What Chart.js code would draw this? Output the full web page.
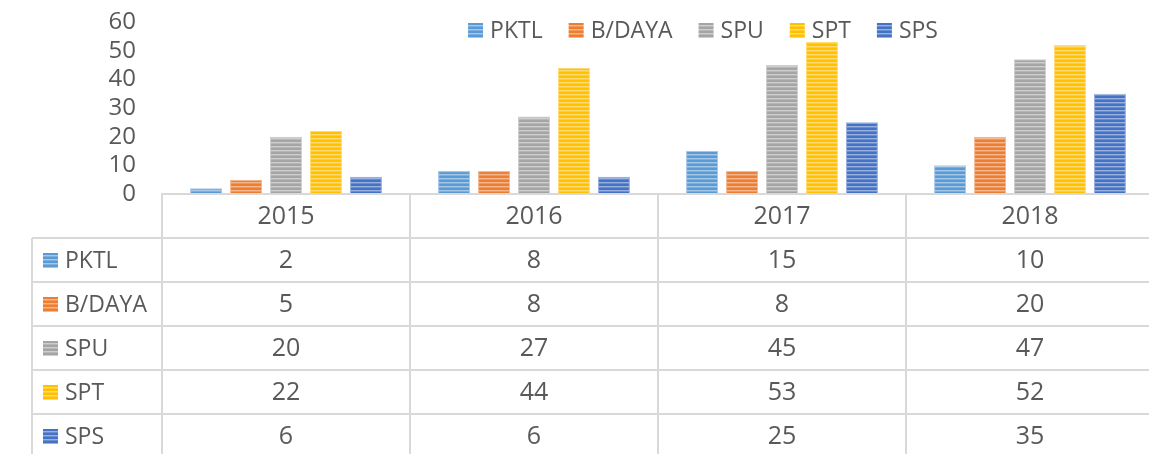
<!DOCTYPE html>
<html>
<head>
<meta charset="utf-8">
<script src="https://cdn.jsdelivr.net/npm/chart.js@4.4.1/dist/chart.umd.min.js"></script>
<style>
html,body{margin:0;padding:0;background:#fff;overflow:hidden;}
#wrap{width:1160px;height:454px;position:relative;}
</style>
</head>
<body>
<div id="wrap"><canvas id="c" width="1160" height="454"></canvas></div>
<script>
const categories = ['2015', '2016', '2017', '2018'];
const seriesNames = ['PKTL', 'B/DAYA', 'SPU', 'SPT', 'SPS'];
const pktl = [2, 8, 15, 10];
const bdaya = [5, 8, 8, 20];
const spu = [20, 27, 45, 47];
const spt = [22, 44, 53, 52];
const sps = [6, 6, 25, 35];
const yTicks = [0, 10, 20, 30, 40, 50, 60];

const seriesValues = [pktl, bdaya, spu, spt, sps];
const baseColors = ['#5B9BD5', '#ED7D31', '#A5A5A5', '#FFC000', '#4472C4'];
const TEXT = '#595959';
const LINE = '#D9D9D9';
const FONT = '"Segoe UI", "Open Sans", sans-serif';

function mix(hex, amt) {
  const n = parseInt(hex.slice(1), 16);
  const r = (n >> 16) & 255, g = (n >> 8) & 255, b = n & 255;
  const f = c => Math.round(c + (255 - c) * amt);
  return `rgb(${f(r)},${f(g)},${f(b)})`;
}
function stripePattern(hex) {
  const p = document.createElement('canvas');
  p.width = 8; p.height = 4;
  const g = p.getContext('2d');
  g.fillStyle = hex; g.fillRect(0, 0, 8, 4);
  g.fillStyle = mix(hex, 0.45); g.fillRect(0, 2, 8, 1);
  g.fillStyle = mix(hex, 0.2); g.fillRect(0, 3, 8, 1);
  return document.getElementById('c').getContext('2d').createPattern(p, 'repeat');
}
const patterns = baseColors.map(stripePattern);

const datasets = seriesNames.map((name, i) => ({
  label: name,
  data: seriesValues[i],
  backgroundColor: patterns[i],
  borderColor: mix(baseColors[i], 0.45),
  borderWidth: 1,
  borderSkipped: 'bottom',
  categoryPercentage: 0.806,
  barPercentage: 0.8
}));

function drawBox(ctx, x, y, i) {
  ctx.fillStyle = patterns[i];
  ctx.save();
  ctx.translate(x, y);
  ctx.fillRect(0, 0, 15, 15);
  ctx.restore();
}

const tablePlugin = {
  id: 'dataTable',
  afterDraw(chart) {
    const ctx = chart.ctx;
    const ca = chart.chartArea;
    const n = categories.length;
    const cw = (ca.right - ca.left) / n;
    const rowH = 44;
    const top = ca.bottom;
    const labelLeft = 32;
    const rows = seriesNames.length;
    const bottom = top + rowH * (rows + 1);
    ctx.save();
    ctx.strokeStyle = LINE;
    ctx.lineWidth = 2;
    ctx.beginPath();
    ctx.moveTo(ca.left - 1, top); ctx.lineTo(ca.right + 2, top);
    for (let r = 1; r <= rows; r++) {
      const y = top + rowH * r;
      ctx.moveTo(labelLeft, y); ctx.lineTo(ca.right + 2, y);
    }
    for (let c = 0; c <= n; c++) {
      const x = ca.left + cw * c;
      ctx.moveTo(x, top); ctx.lineTo(x, bottom);
    }
    ctx.moveTo(labelLeft, top + rowH); ctx.lineTo(labelLeft, bottom);
    ctx.stroke();

    ctx.fillStyle = TEXT;
    ctx.textBaseline = 'middle';
    ctx.font = '25px ' + FONT;
    ctx.textAlign = 'center';
    const xs = chart.scales.x;
    categories.forEach((cat, c) => {
      const cx = xs.getPixelForTick(c);
      ctx.fillText(cat, cx, top + rowH / 2 + 1);
      seriesValues.forEach((vals, r) => {
        ctx.fillText(String(vals[c]), cx, top + rowH * (r + 1) + rowH / 2 + 1);
      });
    });
    ctx.textAlign = 'left';
    ctx.font = '23px ' + FONT;
    seriesNames.forEach((name, r) => {
      const cy = top + rowH * (r + 1) + rowH / 2;
      drawBox(ctx, 43, cy - 7, r);
      ctx.fillStyle = TEXT;
      ctx.fillText(name, 65, cy + 1);
    });

    // legend
    ctx.font = '23px ' + FONT;
    const widths = seriesNames.map(s => ctx.measureText(s).width);
    const gap = 26;
    const total = widths.reduce((a, w) => a + 15 + 7 + w, 0) + gap * (seriesNames.length - 1);
    let x = 703 - total / 2;
    const ly = 30;
    seriesNames.forEach((name, i) => {
      drawBox(ctx, x, ly - 7, i);
      ctx.fillStyle = TEXT;
      ctx.fillText(name, x + 22, ly + 1);
      x += 22 + widths[i] + gap;
    });
    ctx.restore();
  }
};

new Chart(document.getElementById('c'), {
  type: 'bar',
  data: { labels: categories, datasets },
  options: {
    responsive: false,
    animation: false,
    layout: { padding: { top: 22, right: 6, bottom: 260, left: 0 } },
    plugins: { legend: { display: false }, tooltip: { enabled: false } },
    scales: {
      x: { display: false, grid: { display: false } },
      y: {
        min: 0, max: 60,
        afterBuildTicks(scale) { scale.ticks = yTicks.map(v => ({ value: v })); },
        afterFit(scale) { scale.width = 162; scale.paddingTop = 0; scale.paddingBottom = 0; },
        grid: { display: false, drawTicks: false },
        border: { display: false },
        ticks: { color: TEXT, font: { size: 24, family: FONT }, padding: 26, autoSkip: false }
      }
    }
  },
  plugins: [tablePlugin]
});
</script>
</body>
</html>
